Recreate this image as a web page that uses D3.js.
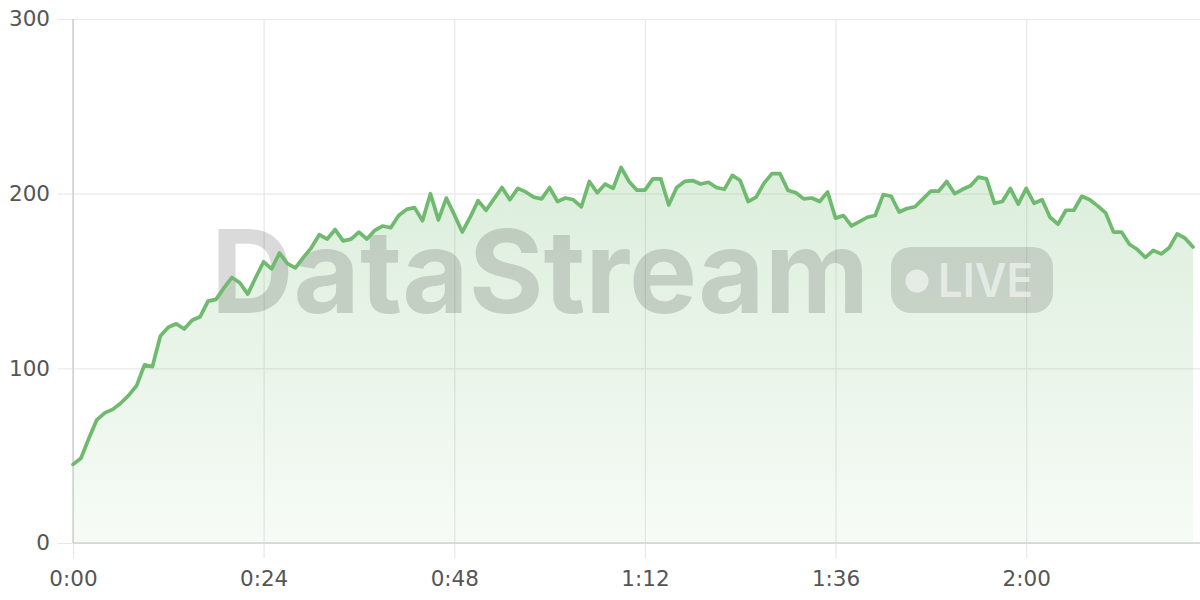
<!DOCTYPE html>
<html>
<head>
<meta charset="utf-8">
<script src="https://cdn.jsdelivr.net/npm/d3@7"></script>
<style>
  html, body { margin: 0; padding: 0; background: #fff; }
  svg { display: block; }
</style>
</head>
<body>
<svg id="chart" width="1200" height="600"></svg>
<script>
// Seconds elapsed (one sample per second)
const seconds = d3.range(0, 142);
// Series values
const values = [
  45, 48.5, 60, 70.5, 74.5, 76.5, 80, 84.5, 90, 102,
  101, 118.5, 123.5, 125.5, 122.5, 127.5, 129.5, 138.5, 139.5, 146,
  152, 149, 142.5, 152, 161, 157, 166, 160, 157.5, 163.5,
  169, 176.5, 174, 179.5, 173, 174, 178, 174, 179, 181.5,
  180.5, 187.5, 191, 192, 184.5, 200, 185, 197.5, 188, 178,
  186.5, 196, 190.5, 197, 203.5, 196.5, 203, 201, 198, 197,
  203.5, 195.5, 197.5, 196.5, 192.5, 207, 200.5, 205.5, 203, 215,
  207, 202, 202, 208.5, 208.5, 193.5, 203.5, 207, 207.5, 205.5,
  206.5, 203.5, 202.5, 210.5, 207.5, 195.5, 198, 206, 211.5, 211.5,
  202, 200.5, 197, 197.5, 195.5, 201, 186, 187.5, 181.5, 184,
  186.5, 187.5, 199.5, 198.5, 189.5, 191.5, 192.5, 197, 201.5, 201.5,
  207, 200, 202.5, 204.5, 209.5, 208.5, 194.5, 195.5, 203, 194,
  203, 194.5, 196.5, 186.5, 182.5, 190.5, 190.5, 198.5, 196.5, 193,
  189, 178, 178, 171, 168, 163.5, 167.5, 165.5, 169, 177,
  174.5, 169.5
];
const xTicks = [0, 24, 48, 72, 96, 120];
const yTicks = [0, 100, 200, 300];
const watermarkText = "DataStream";
const badgeText = "LIVE";

(function () {
const data = seconds.map((s, i) => ({ s, v: values[i] }));

const svg = d3.select("#chart");
const pl = 73, pr = 1193, pt = 19, pb = 543;

const x = d3.scaleLinear().domain([0, 141]).range([pl, pr]);
const y = d3.scaleLinear().domain([0, 300]).range([pb, pt]);
const fmt = s => `${Math.floor(s / 60)}:${String(s % 60).padStart(2, "0")}`;

// gradient
const defs = svg.append("defs");
const grad = defs.append("linearGradient")
  .attr("id", "areaGrad").attr("gradientUnits", "userSpaceOnUse")
  .attr("x1", 0).attr("x2", 0).attr("y1", y(215)).attr("y2", y(0));
grad.append("stop").attr("offset", "0%").attr("stop-color", "#71bb71").attr("stop-opacity", 0.25);
grad.append("stop").attr("offset", "100%").attr("stop-color", "#71bb71").attr("stop-opacity", 0.06);

// grid (horizontal) + y labels
const yAxisG = svg.append("g")
  .attr("transform", `translate(${pl},0)`)
  .call(d3.axisLeft(y).tickValues(yTicks).tickSize(15).tickPadding(8).tickFormat(d3.format("d")));
yAxisG.select(".domain").remove();
yAxisG.selectAll(".tick line").attr("stroke", "#e8e8e8").attr("x1", -15).attr("x2", 1200 - pl).attr("stroke-width", 1.2);
yAxisG.selectAll(".tick text")
  .attr("x", -23).attr("fill", "#555")
  .style("font-family", "'DejaVu Sans', sans-serif").style("font-size", "21.5px");

// grid (vertical) + x labels
const xAxisG = svg.append("g")
  .attr("transform", `translate(0,${pb})`)
  .call(d3.axisBottom(x).tickValues(xTicks).tickSize(15).tickPadding(13).tickFormat(fmt));
xAxisG.select(".domain").remove();
xAxisG.selectAll(".tick line").attr("stroke", "#e8e8e8").attr("y1", pt - pb).attr("y2", 15).attr("stroke-width", 1.2);
xAxisG.selectAll(".tick text")
  .attr("fill", "#555")
  .style("font-family", "'DejaVu Sans', sans-serif").style("font-size", "21.5px");

// area
const area = d3.area().x(d => x(d.s)).y0(y(0)).y1(d => y(d.v));
svg.append("path").datum(data).attr("d", area).attr("fill", "url(#areaGrad)");

// axis lines
svg.append("line").attr("x1", pl).attr("x2", pl).attr("y1", pt).attr("y2", pb)
  .attr("stroke", "#d0d0d0").attr("stroke-width", 1.5);
svg.append("line").attr("x1", pl).attr("x2", 1200).attr("y1", pb).attr("y2", pb)
  .attr("stroke", "#d0d4d0").attr("stroke-width", 1.5);

// watermark
const wm = svg.append("g").attr("pointer-events", "none");
wm.append("text")
  .attr("x", 211).attr("y", 313)
  .attr("textLength", 658).attr("lengthAdjust", "spacingAndGlyphs")
  .style("font-family", "Inter, 'DejaVu Sans', sans-serif")
  .style("font-weight", 700).style("font-size", "115px")
  .attr("fill", "rgba(0,0,0,0.145)")
  .text(watermarkText);
wm.append("rect")
  .attr("x", 891).attr("y", 247).attr("width", 162).attr("height", 66).attr("rx", 20)
  .attr("fill", "rgba(0,0,0,0.13)");
wm.append("circle").attr("cx", 917).attr("cy", 281).attr("r", 11.5)
  .attr("fill", "rgba(255,255,255,0.55)");
wm.append("text")
  .attr("x", 938).attr("y", 297)
  .attr("textLength", 95).attr("lengthAdjust", "spacingAndGlyphs")
  .style("font-family", "Inter, 'DejaVu Sans', sans-serif")
  .style("font-weight", 600).style("font-size", "47px")
  .attr("fill", "rgba(255,255,255,0.55)")
  .text(badgeText);

// line
const line = d3.line().x(d => x(d.s)).y(d => y(d.v));
svg.append("path").datum(data).attr("d", line)
  .attr("fill", "none").attr("stroke", "#6fba6f").attr("stroke-width", 3.7)
  .attr("stroke-linejoin", "round").attr("stroke-linecap", "round");
})();
</script>
</body>
</html>
